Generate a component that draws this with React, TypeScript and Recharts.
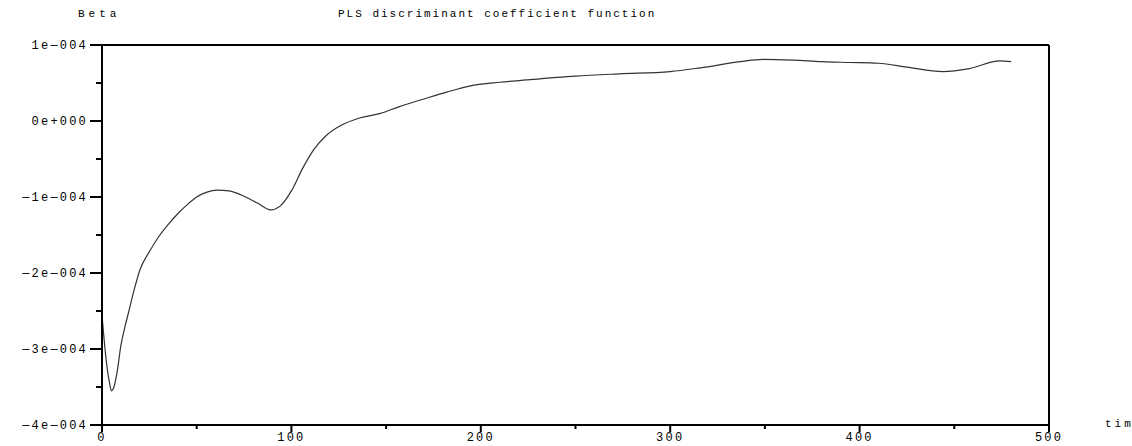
import { LineChart, Line, XAxis, YAxis, ReferenceLine } from 'recharts';

// time index (x) and PLS discriminant coefficient (Beta)
const timePoints = [
  0, 2, 4, 5, 6, 8, 10, 12, 14, 17, 20, 25, 30, 35, 40, 45, 50, 55, 61, 67, 75, 82, 89, 94,
  100, 106, 112, 118, 126, 136, 147, 157, 170, 182, 194, 210, 224, 250, 273, 300, 316,
  337, 349, 365, 380, 395, 410, 425, 444, 458, 474, 480,
];
const betaValues = [
  -2.55e-4, -3.1e-4, -3.45e-4, -3.55e-4, -3.52e-4, -3.3e-4, -2.95e-4, -2.72e-4, -2.52e-4,
  -2.22e-4, -1.96e-4, -1.72e-4, -1.52e-4, -1.36e-4, -1.22e-4, -1.1e-4, -1.0e-4, -0.94e-4,
  -0.91e-4, -0.92e-4, -0.99e-4, -1.08e-4, -1.17e-4, -1.12e-4, -0.92e-4, -0.62e-4, -0.37e-4,
  -0.2e-4, -0.06e-4, 0.04e-4, 0.1e-4, 0.19e-4, 0.29e-4, 0.38e-4, 0.46e-4, 0.51e-4, 0.54e-4,
  0.59e-4, 0.62e-4, 0.65e-4, 0.7e-4, 0.78e-4, 0.81e-4, 0.8e-4, 0.78e-4, 0.77e-4, 0.76e-4,
  0.71e-4, 0.65e-4, 0.69e-4, 0.79e-4, 0.78e-4,
];
const xTicks = [0, 50, 100, 150, 200, 250, 300, 350, 400, 450, 500];
const yTicks = [-4e-4, -3.5e-4, -3e-4, -2.5e-4, -2e-4, -1.5e-4, -1e-4, -0.5e-4, 0, 0.5e-4, 1e-4];

const chartTitle = 'PLS  discriminant coefficient function';
const yLabel = 'Beta';
const xLabel = 'time';

const data = timePoints.map((t, i) => ({ t, beta: betaValues[i] }));

const FONT = '"Liberation Mono", monospace';

const fmtY = (v: number) => {
  const m = Math.round(v * 1e4);
  if (m === 0) return '0e+000';
  return (m < 0 ? '\u2014' : '') + Math.abs(m) + 'e\u2014004';
};

const YTick = (props: any) => {
  const { x, y, payload } = props;
  const v = payload.value * 1e4;
  const major = Math.abs(v - Math.round(v)) < 1e-6;
  return (
    <g>
      <line x1={x - (major ? 12 : 6)} x2={x} y1={y} y2={y} stroke="#000" strokeWidth={2} />
      {major && (
        <text x={x - 14} y={y} dy={4} textAnchor="end" fontFamily={FONT} fontSize={12}
          letterSpacing={2.2} fill="#000">
          {fmtY(payload.value)}
        </text>
      )}
    </g>
  );
};

const XTick = (props: any) => {
  const { x, y, payload } = props;
  const major = payload.value % 100 === 0;
  return (
    <g>
      <line x1={x} x2={x} y1={y} y2={y + (major ? 7 : 4)} stroke="#000" strokeWidth={2} />
      {major && (
        <text x={x} y={y + 16} textAnchor="middle" fontFamily={FONT} fontSize={12}
          letterSpacing={2.2} fill="#000">
          {payload.value}
        </text>
      )}
    </g>
  );
};

export default function App() {
  return (
    <div style={{ position: 'absolute', left: 0, top: 0, width: 1132, height: 446, background: '#fff' }}>
      <LineChart width={1132} height={446} data={data}
        margin={{ top: 45, right: 83, bottom: 0, left: 0 }}>
        <XAxis dataKey="t" type="number" domain={[0, 500]} ticks={xTicks}
          axisLine={{ stroke: '#000', strokeWidth: 2 }} tickLine={false}
          tickSize={0} tickMargin={0} height={21} tick={<XTick />} interval={0} />
        <YAxis type="number" domain={[-4e-4, 1e-4]} ticks={yTicks} allowDataOverflow
          axisLine={{ stroke: '#000', strokeWidth: 2 }} tickLine={false}
          tickSize={0} tickMargin={0} width={102} tick={<YTick />} interval={0} />
        <ReferenceLine y={1e-4} stroke="#000" strokeWidth={2} />
        <ReferenceLine x={500} stroke="#000" strokeWidth={2} />
        <Line dataKey="beta" type="monotone" stroke="#333" strokeWidth={1.2} dot={false}
          isAnimationActive={false} />
        <text x={78} y={17} fontFamily={FONT} fontSize={11} letterSpacing={4} fill="#000">
          {yLabel}
        </text>
        <text x={338} y={17} fontFamily={FONT} fontSize={11} letterSpacing={2} fill="#000">
          {chartTitle}
        </text>
        <text x={1105} y={427} fontFamily={FONT} fontSize={11} letterSpacing={3} fill="#000">
          {xLabel}
        </text>
      </LineChart>
    </div>
  );
}
